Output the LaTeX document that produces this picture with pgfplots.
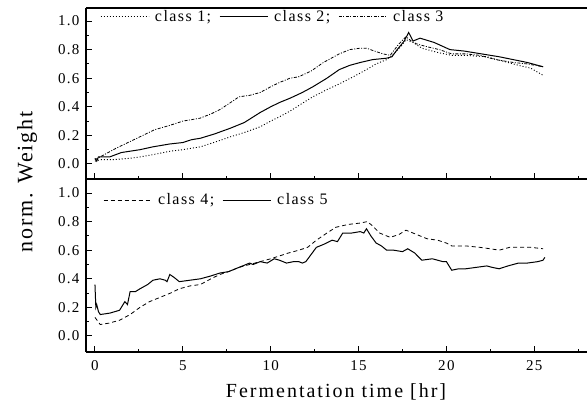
\documentclass[border=0pt]{standalone}
\usepackage{fontspec}
\setmainfont{Liberation Serif}
\newfontfamily\tickfont[LetterSpace=9]{Liberation Serif}
\newfontfamily\labfont[LetterSpace=10]{Liberation Serif}
\newfontfamily\ylabfont[LetterSpace=8]{Liberation Serif}
\usepackage{pgfplots}
\pgfplotsset{compat=1.18}
\pgfplotsset{
  panel/.style={
    scale only axis, width=501pt, xmin=-0.51, xmax=28.0,
    axis x line*=box, axis y line*=left,
    axis line style={line width=1.2pt},
    xtick={0,5,10,15,20,25}, minor xtick={2.5,7.5,12.5,17.5,22.5,27.5},
    ytick={0,0.2,0.4,0.6,0.8,1.0}, minor ytick={0.1,0.3,0.5,0.7,0.9},
    xtick pos=bottom, ytick pos=left, tick align=inside,
    major tick length=6pt, minor tick length=3pt,
    every tick/.style={line width=1pt, black},
    /pgf/number format/assume math mode=true,
    yticklabel style={/pgf/number format/.cd, fixed, fixed zerofill, precision=1, /tikz/.cd, font=\tickfont\fontsize{15}{16}\selectfont, xshift=-3pt},
    xticklabel style={font=\tickfont\fontsize{15}{16}\selectfont, yshift=-5pt},
    legend image code/.code={\draw[##1] (0pt,0pt) -- (48pt,0pt); \path (52pt,0pt);},
    legend style={draw=none, fill=none, inner sep=0pt, font=\tickfont\fontsize{16}{18}\selectfont, legend columns=-1,
      /tikz/every even column/.append style={column sep=6pt}},
    clip=false,
  }
}
\begin{document}
\begin{tikzpicture}[x=1pt,y=1pt]
\begin{axis}[panel, at={(86pt,55pt)}, anchor=south west, height=173pt,
  ymin=-0.112, ymax=1.098,
  legend style={at={(axis cs:0.46,0.95)}, anchor=west}]
\addplot[black, line width=0.8pt, dash pattern=on 4pt off 3pt] coordinates {
(0.0,0.13) (0.3,0.08) (0.8,0.09) (1.4,0.11) (2.0,0.15) (2.56,0.20) (3.1,0.24) (3.7,0.27)
(4.3,0.30) (4.8,0.33) (5.4,0.35) (6.0,0.36) (6.6,0.40) (7.1,0.43) (7.6,0.45) (8.2,0.48)
(8.8,0.50) (9.4,0.52) (10.0,0.54) (10.5,0.56) (11.0,0.58) (11.6,0.60) (12.1,0.62) (12.6,0.67)
(13.2,0.72) (13.7,0.76) (14.4,0.78) (15.1,0.79) (15.5,0.80) (15.8,0.77) (16.2,0.72) (16.8,0.69)
(17.3,0.71) (17.7,0.74) (18.3,0.71) (18.9,0.68) (19.5,0.67) (20.0,0.65) (20.3,0.63) (21.1,0.63)
(21.9,0.62) (22.5,0.61) (23.0,0.60) (23.6,0.62) (24.1,0.62) (24.8,0.62) (25.5,0.61)};
\addlegendentry{class 4;}
\addplot[black, line width=1pt] coordinates {
(0.0,0.36) (0.05,0.20) (0.1,0.22) (0.2,0.17) (0.3,0.15) (0.85,0.16) (1.4,0.18) (1.7,0.24)
(1.85,0.22) (2.0,0.31) (2.3,0.31) (2.56,0.33) (3.0,0.36) (3.3,0.39) (3.7,0.40) (4.0,0.39)
(4.1,0.38) (4.26,0.43) (4.5,0.41) (4.8,0.38) (5.4,0.39) (6.0,0.40) (6.6,0.42) (7.1,0.44)
(7.6,0.45) (8.2,0.48) (8.8,0.51) (9.0,0.50) (9.4,0.52) (9.8,0.51) (10.2,0.54) (10.5,0.53)
(10.9,0.51) (11.3,0.52) (11.6,0.52) (11.8,0.51) (12.0,0.52) (12.3,0.57) (12.6,0.62) (13.0,0.64)
(13.5,0.67) (13.8,0.66) (14.1,0.72) (14.6,0.72) (15.1,0.73) (15.3,0.72) (15.45,0.75) (15.7,0.70)
(16.0,0.65) (16.3,0.63) (16.6,0.60) (17.0,0.60) (17.5,0.59) (17.8,0.61) (18.2,0.58) (18.6,0.53)
(19.2,0.54) (19.8,0.52) (20.0,0.52) (20.3,0.46) (20.7,0.47) (21.1,0.47) (21.7,0.48) (22.3,0.49)
(22.6,0.48) (23.0,0.47) (23.5,0.49) (24.1,0.51) (24.6,0.51) (25.2,0.52) (25.5,0.53) (25.6,0.55)};
\addlegendentry{class 5}
\end{axis}
\begin{axis}[panel, at={(86pt,228pt)}, anchor=south west, height=171pt,
  ymin=-0.105, ymax=1.091, xticklabels={},
  legend style={at={(axis cs:0.28,1.03)}, anchor=west}]
\addplot[black, line width=0.9pt, dash pattern=on 1pt off 2pt] coordinates {
(0.0,0.02) (0.3,0.03) (1.0,0.03) (2.0,0.04) (2.6,0.05) (3.5,0.07) (4.3,0.09) (5.0,0.10)
(6.0,0.12) (7.0,0.16) (7.7,0.19) (8.5,0.22) (9.4,0.26) (10.0,0.30) (10.5,0.33) (11.1,0.37)
(12.0,0.44) (12.4,0.47) (13.2,0.52) (13.9,0.56) (14.7,0.61) (15.45,0.66) (16.0,0.70) (16.6,0.73)
(17.0,0.77) (17.4,0.82) (17.7,0.87) (18.1,0.85) (18.6,0.81) (19.5,0.78) (20.3,0.76) (21.0,0.76)
(22.3,0.75) (23.2,0.72) (24.1,0.69) (24.8,0.67) (25.5,0.62)};
\addlegendentry{class 1;}
\addplot[black, line width=1pt] coordinates {
(0.0,0.04) (0.1,0.02) (0.2,0.05) (0.85,0.05) (1.5,0.08) (2.56,0.10) (3.3,0.12) (4.26,0.14)
(5.0,0.15) (5.5,0.17) (6.0,0.18) (6.8,0.21) (7.7,0.25) (8.5,0.29) (9.4,0.36) (10.0,0.40)
(10.5,0.43) (11.1,0.46) (11.8,0.50) (12.4,0.54) (13.2,0.60) (13.9,0.66) (14.5,0.69) (15.1,0.71)
(15.8,0.73) (16.6,0.74) (16.9,0.75) (17.2,0.80) (17.6,0.86) (17.85,0.92) (18.1,0.86) (18.5,0.88)
(19.3,0.85) (20.2,0.80) (21.0,0.79) (22.0,0.77) (23.0,0.75) (23.8,0.73) (24.6,0.71) (25.5,0.68)};
\addlegendentry{class 2;}
\addplot[black, line width=0.8pt, dash pattern=on 3pt off 1.5pt on 1pt off 1.5pt] coordinates {
(0.0,0.03) (0.3,0.05) (1.2,0.11) (2.56,0.19) (3.4,0.24) (4.26,0.27) (5.0,0.30) (5.97,0.32)
(6.6,0.35) (7.1,0.38) (7.6,0.42) (8.2,0.47) (8.8,0.48) (9.4,0.50) (10.0,0.54) (10.5,0.57)
(11.1,0.60) (11.6,0.61) (12.3,0.65) (13.0,0.71) (13.9,0.77) (14.5,0.80) (15.1,0.81) (15.45,0.81)
(15.9,0.79) (16.4,0.77) (16.8,0.76) (17.3,0.84) (17.7,0.89) (18.0,0.86) (18.3,0.84) (18.9,0.82)
(19.6,0.80) (20.3,0.77) (21.1,0.77) (21.9,0.76) (22.8,0.73) (23.8,0.71) (24.6,0.70) (25.5,0.68)};
\addlegendentry{class 3}
\end{axis}
\node[font=\labfont\fontsize{20}{22}\selectfont] at (336,15) {Fermentation time [hr]};
\node[font=\ylabfont\fontsize{22}{24}\selectfont, rotate=90] at (27,225) {norm. Weight};
\pgfresetboundingbox
\path[use as bounding box] (0,0) rectangle (587,407);
\end{tikzpicture}
\end{document}
